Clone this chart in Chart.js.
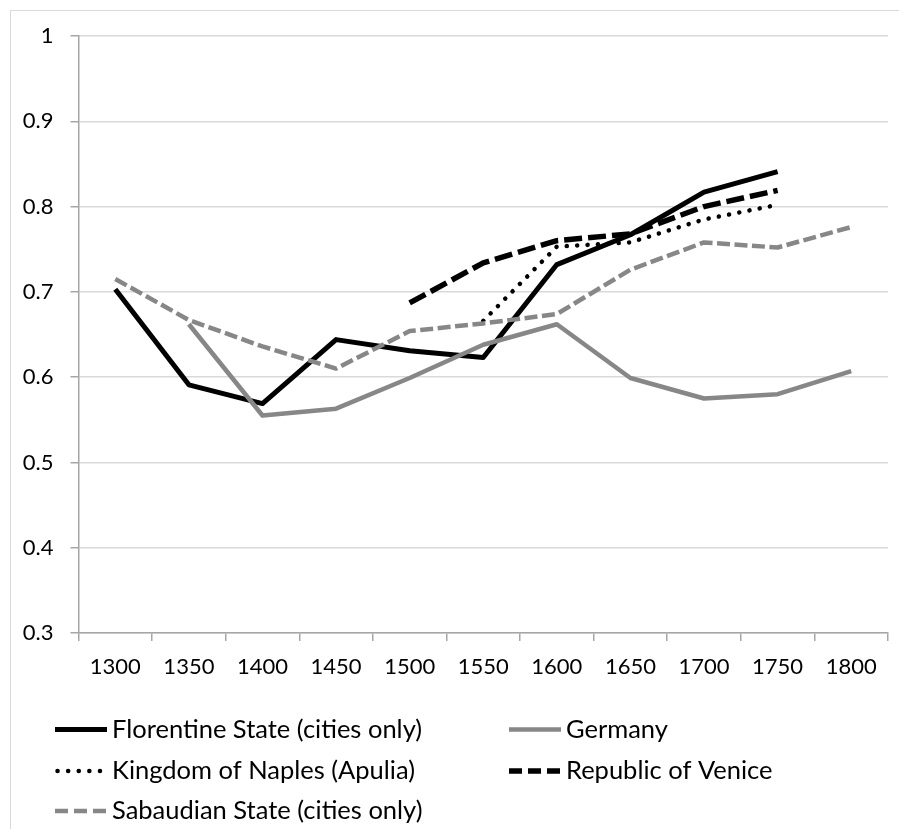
<!DOCTYPE html>
<html>
<head>
<meta charset="utf-8">
<script src="https://cdn.jsdelivr.net/npm/chart.js@4.4.1/dist/chart.umd.min.js"></script>
<style>
  html, body { margin: 0; padding: 0; background: #fff; overflow: hidden; }
  #wrap { position: absolute; left: 0; top: 0; width: 899px; height: 829px; }
  #frame { position: absolute; left: 10px; top: 10px; width: 1000px; height: 1000px;
           border-left: 1px solid #d9d9d9; border-top: 1px solid #d9d9d9; }
</style>
</head>
<body>
<div id="frame"></div>
<div id="wrap"><canvas id="c"></canvas></div>
<script>
// ---- data ----
const categories = ['1300','1350','1400','1450','1500','1550','1600','1650','1700','1750','1800'];
const seriesNames = [
  'Florentine State (cities only)',
  'Germany',
  'Kingdom of Naples (Apulia)',
  'Republic of Venice',
  'Sabaudian State (cities only)'
];
const florentine = [0.703, 0.591, 0.569, 0.644, 0.631, 0.623, 0.732, 0.767, 0.817, 0.841, null];
const germany    = [null, 0.662, 0.555, 0.563, 0.599, 0.638, 0.662, 0.599, 0.575, 0.580, 0.607];
const naples     = [null, null, null, null, null, 0.666, 0.753, 0.758, 0.785, 0.802, null];
const venice     = [null, null, null, null, 0.687, 0.734, 0.760, 0.768, 0.800, 0.819, null];
const sabaudian  = [0.715, 0.667, 0.636, 0.610, 0.654, 0.663, 0.674, 0.726, 0.758, 0.752, 0.776];
const yMin = 0.3, yMax = 1.0, yStep = 0.1;

// ---- styles ----
const FONT = 'Lato';
const GRAY = '#878787';
const AXIS = '#a6a6a6';
const GRID = '#d9d9d9';

const styles = [
  { color: '#000', width: 5,   dash: [],        cap: 'butt',  legendDash: [] },
  { color: GRAY,   width: 4.5, dash: [],        cap: 'butt',  legendDash: [] },
  { color: '#000', width: 4.5, dash: [0.1, 10.3], cap: 'round', legendDash: [0.1, 10.5] },
  { color: '#000', width: 5.5, dash: [18, 6],   cap: 'butt',  legendDash: [13, 6] },
  { color: GRAY,   width: 4.5, dash: [13, 4.5], cap: 'butt',  legendDash: [13, 6] }
];
const seriesData = [florentine, germany, naples, venice, sabaudian];
const drawOrder = [4, 3, 2, 1, 0];

const datasets = seriesData.map((d, i) => ({
  label: seriesNames[i],
  data: d,
  borderColor: styles[i].color,
  backgroundColor: styles[i].color,
  borderWidth: styles[i].width,
  borderDash: styles[i].dash,
  borderCapStyle: styles[i].cap,
  borderJoinStyle: 'round',
  pointRadius: 0,
  pointHoverRadius: 0,
  tension: 0,
  fill: false,
  spanGaps: false,
  order: drawOrder[i]
}));

// custom legend laid out in two columns like the reference
const legendLayout = [
  { col: 0, row: 0 }, { col: 1, row: 0 },
  { col: 0, row: 1 }, { col: 1, row: 1 },
  { col: 0, row: 2 }
];
const legendPlugin = {
  id: 'gridLegend',
  afterDraw(chart) {
    const ctx = chart.ctx;
    const colX = [55, 509];
    const rowY = [729.5, 771, 811];
    const sampleLen = 52;
    ctx.save();
    legendLayout.forEach((pos, i) => {
      const st = styles[i];
      const x = colX[pos.col], y = rowY[pos.row];
      ctx.beginPath();
      ctx.strokeStyle = st.color;
      ctx.lineWidth = st.width;
      ctx.lineCap = st.cap;
      ctx.setLineDash(st.legendDash);
      if (st.cap === 'round') {
        ctx.moveTo(x + 2.5, y); ctx.lineTo(x + sampleLen - 6, y);
      } else {
        ctx.moveTo(x, y); ctx.lineTo(x + sampleLen, y);
      }
      ctx.stroke();
      ctx.setLineDash([]);
      ctx.fillStyle = '#000';
      ctx.font = '25.5px ' + FONT;
      ctx.textBaseline = 'middle';
      ctx.textAlign = 'left';
      ctx.fillText(seriesNames[i], x + sampleLen + 5, y);
    });
    ctx.restore();
  }
};

new Chart(document.getElementById('c'), {
  type: 'line',
  data: { labels: categories, datasets },
  plugins: [legendPlugin],
  options: {
    responsive: true,
    maintainAspectRatio: false,
    animation: false,
    events: [],
    layout: { padding: { left: 0, right: 11, top: 36, bottom: 136 } },
    plugins: { legend: { display: false }, tooltip: { enabled: false } },
    scales: {
      x: {
        type: 'category',
        offset: true,
        grid: { offset: true, drawOnChartArea: false, drawTicks: true, tickLength: 8, color: AXIS, lineWidth: 1.5 },
        border: { color: AXIS, width: 1.5 },
        ticks: { font: { family: FONT, size: 22 }, color: '#000', padding: 12.5, maxRotation: 0, autoSkip: false },
        afterFit: s => { s.height = 60; }
      },
      y: {
        min: yMin, max: yMax,
        ticks: {
          stepSize: yStep,
          font: { family: FONT, size: 22 }, color: '#000', padding: 17,
          callback: v => String(Number(v.toFixed(1)))
        },
        grid: { color: GRID, lineWidth: 1.5, tickColor: AXIS, tickLength: 8 },
        border: { color: AXIS, width: 1.5 },
        afterFit: s => { s.width = 78.5; }
      }
    }
  }
});
</script>
</body>
</html>
